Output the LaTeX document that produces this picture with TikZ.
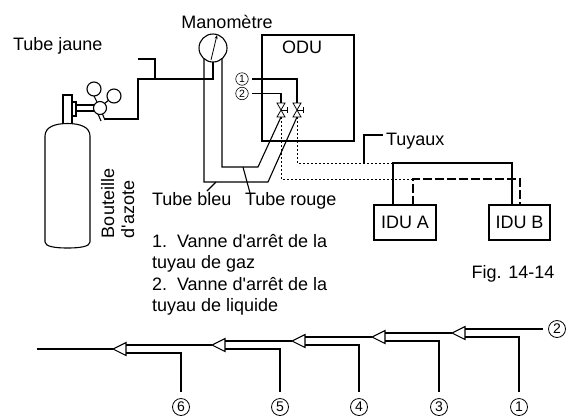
\documentclass[tikz,border=0pt]{standalone}
\usepackage{fontspec}
\setmainfont{Liberation Sans}
\usetikzlibrary{arrows.meta}
\begin{document}
\begin{tikzpicture}[x=1pt,y=-1pt,line width=1.1pt,line join=miter,
  every node/.style={inner sep=0pt,outer sep=0pt},
  lbl/.style={font=\fontsize{18}{21.5}\selectfont},
  unitbox/.style={draw,line width=1.2pt,minimum width=#1,minimum height=35pt,
    font=\fontsize{18}{21.5}\selectfont},
  num/.style={circle,draw,line width=0.8pt,minimum size=17pt,
    font=\fontsize{14}{14}\selectfont},
  smallnum/.style={circle,draw,line width=0.6pt,minimum size=12.5pt,
    font=\fontsize{10.5}{10.5}\selectfont},
  dotpipe/.style={line width=0.9pt,dash pattern=on 2pt off 2pt},
  dashpipe/.style={dash pattern=on 9pt off 3pt},
  valve/.pic={
    \draw[line width=0.8pt] (-4,-7) -- (4,-7) -- (-4,7) -- (4,7) -- cycle;
    \draw[line width=0.8pt] (0,0) -- (6,0) (6,-3) -- (6,3);
    \coordinate (-top) at (0,-7);
    \coordinate (-bot) at (0,7);
  },
  tee/.pic={
    \draw[fill=white] (0,0) -- (13,-6.5) -- (13,6.5) -- cycle;
    \coordinate (-tip) at (0,0);
    \coordinate (-up) at (13,-4);
    \coordinate (-lo) at (13,4);
  }
]
\useasboundingbox (0,0) rectangle (572,416);

% ---------------- nitrogen cylinder with regulator ----------------
\draw (45,136) .. controls (45,127) and (55,123.5) .. (67.5,123.5)
      .. controls (80,123.5) and (90,127) .. (90,136)
      -- (90,242) .. controls (90,246.5) and (80,248) .. (67.5,248)
      .. controls (55,248) and (45,246.5) .. (45,242) -- cycle;
\draw (63,123.8) -- (63,95) -- (72,95) -- (72,123.8);
\draw (72,102) rectangle (76,116);
\draw (76,105) -- (95,105) (76,111) -- (95,111);
\draw (97,102) -- (93,94);
\draw (104,104) -- (110,99);
\draw (98,114) -- (101,121) (102,113) -- (105,120);
\node[circle,draw,fill=white,minimum size=13pt] (body) at (100,108) {};
\node[circle,draw,fill=white,minimum size=14pt] (ga) at (94,89) {};
\node[circle,draw,fill=white,minimum size=14pt] (gb) at (114,96) {};
\coordinate (reg) at (104,119);

% ---------------- gauge ----------------
\node[circle,draw,minimum size=28pt] (gauge) at (213,48) {};
\coordinate (ndl) at (211,60);
\coordinate (ndh) at (217,35);
\draw[line width=0.8pt,-{Stealth[length=4pt,width=3pt]}] (ndl) -- (ndh);

% ---------------- outdoor unit and valves ----------------
\node[draw,line width=1.2pt,minimum width=92pt,minimum height=106pt] (odu) at (308,88) {};
\node[lbl,anchor=base] (odut) at (302,53) {ODU};
\pic (v2) at (281,110) {valve};
\pic (v1) at (297,110) {valve};
\node[smallnum] (c1) at (242,79) {1};
\node[smallnum] (c2) at (242,93.5) {2};
\draw ([xshift=4pt]c1.east) -| (v1-top);
\draw ([xshift=4pt]c2.east) -| (v2-top);

% ---------------- indoor units ----------------
\node[unitbox=62pt] (idua) at (405,222.5) {IDU A};
\node[unitbox=61pt] (idub) at (519.5,222.5) {IDU B};

% ---------------- pipe junction points ----------------
\coordinate (yj) at (138,79);
\coordinate (jt) at (155,79);
\coordinate (jtop) at (138,59);
\coordinate (bc) at (268,182);
\coordinate (rc) at (258,167);
\coordinate (sJ) at (393,163);
\coordinate (aS) at (393,205);
\coordinate (bS) at (512,205);
\coordinate (dE) at (413,179);
\coordinate (aD) at (413,205);
\coordinate (bD) at (520,205);
\coordinate (tuyA) at (364,163);
\coordinate (tuyB) at (383,135);
\coordinate (tb1) at (207,191);
\coordinate (tb2) at (216,182);
\coordinate (tr1) at (243,167);
\coordinate (tr2) at (250,193);

% yellow charging hose
\draw (reg) -| (yj) -| (gauge.south);
\draw (jt) |- (jtop);
% blue and red hoses to the service valves
\draw (gauge.-130) |- (bc) -- (v1-bot);
\draw (gauge.-50) |- (rc) -- (v2-bot);
% connecting pipework to the indoor units
\draw[dotpipe] (v1-bot) |- (sJ);
\draw[dotpipe] (v2-bot) |- (dE);
\draw (aS) -- (sJ) -| (bS);
\draw[dashpipe] (aD) -- (dE) -| (bD);
% label leaders
\draw (tuyA) |- (tuyB);
\draw (tb1) -- (tb2);
\draw (tr1) -- (tr2);

% ---------------- labels ----------------
\node[lbl,anchor=base] (mano) at (227,28) {Manomètre};
\node[lbl,anchor=base west] (jaune) at (13,50) {Tube jaune};
\node[lbl,anchor=base west] (tuy) at (386,145) {Tuyaux};
\node[lbl,anchor=base west] (bleu) at (152,205) {Tube bleu};
\node[lbl,anchor=base west] (rouge) at (245,205) {Tube rouge};
\node[lbl,anchor=base west,rotate=90] (bout1) at (114,238) {Bouteille};
\node[lbl,anchor=base west,rotate=90] (bout2) at (134,238) {d\textquotesingle azote};
\node[lbl,anchor=base west] (l1) at (152,247) {1.\ \ Vanne d\textquotesingle arrêt de la};
\node[lbl,anchor=base west] (l2) at (152,268.5) {tuyau de gaz};
\node[lbl,anchor=base west] (l3) at (152,290) {2.\ \ Vanne d\textquotesingle arrêt de la};
\node[lbl,anchor=base west] (l4) at (152,311.5) {tuyau de liquide};
\node[lbl,anchor=base] (fig) at (513,278) {Fig. 14-14};

% ---------------- branch piping diagram ----------------
\coordinate (lft) at (37,349);
\node[num] (n6) at (181,407) {6};
\node[num] (n5) at (280,407) {5};
\node[num] (n4) at (359,407) {4};
\node[num] (n3) at (439,407) {3};
\node[num] (n1) at (519,407) {1};
\node[num] (n2) at (557,329) {2};
\pic (j6) at (113,349) {tee};
\pic (j5) at (212,345) {tee};
\pic (j4) at (292,341) {tee};
\pic (j3) at (372,337) {tee};
\pic (j1) at (452,333) {tee};
\draw (lft) -- (j6-tip);
\draw (j6-up) -- (j5-tip);
\draw (j5-up) -- (j4-tip);
\draw (j4-up) -- (j3-tip);
\draw (j3-up) -- (j1-tip);
\draw (j1-up) -- ([xshift=-5.5pt]n2.west);
\draw (j6-lo) -| ([yshift=6.5pt]n6.north);
\draw (j5-lo) -| ([yshift=6.5pt]n5.north);
\draw (j4-lo) -| ([yshift=6.5pt]n4.north);
\draw (j3-lo) -| ([yshift=6.5pt]n3.north);
\draw (j1-lo) -| ([yshift=6.5pt]n1.north);
\end{tikzpicture}
\end{document}
